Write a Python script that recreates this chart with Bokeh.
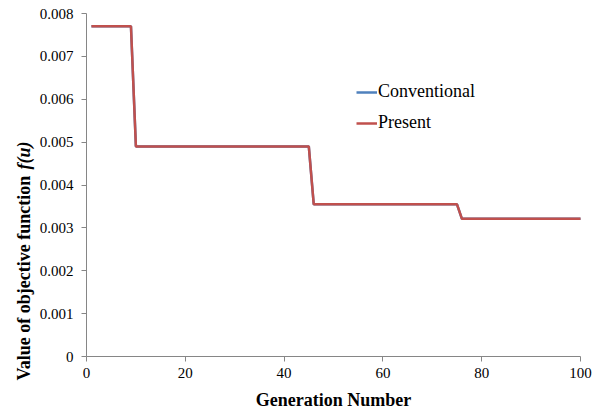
from bokeh.plotting import figure
from bokeh.models import Range1d, FixedTicker, Legend, LegendItem, Label
from bokeh.embed import file_html
from bokeh.resources import INLINE
import math

# ---- data ----
generation = list(range(1, 101))
conventional = [
    0.0077, 0.0077, 0.0077, 0.0077, 0.0077, 0.0077, 0.0077, 0.0077, 0.0077,
    0.0049, 0.0049, 0.0049, 0.0049, 0.0049, 0.0049, 0.0049, 0.0049, 0.0049, 0.0049,
    0.0049, 0.0049, 0.0049, 0.0049, 0.0049, 0.0049, 0.0049, 0.0049, 0.0049, 0.0049,
    0.0049, 0.0049, 0.0049, 0.0049, 0.0049, 0.0049, 0.0049, 0.0049, 0.0049, 0.0049,
    0.0049, 0.0049, 0.0049, 0.0049, 0.0049, 0.0049,
    0.00355, 0.00355, 0.00355, 0.00355, 0.00355, 0.00355, 0.00355, 0.00355, 0.00355, 0.00355,
    0.00355, 0.00355, 0.00355, 0.00355, 0.00355, 0.00355, 0.00355, 0.00355, 0.00355, 0.00355,
    0.00355, 0.00355, 0.00355, 0.00355, 0.00355, 0.00355, 0.00355, 0.00355, 0.00355, 0.00355,
    0.00321, 0.00321, 0.00321, 0.00321, 0.00321, 0.00321, 0.00321, 0.00321, 0.00321, 0.00321,
    0.00321, 0.00321, 0.00321, 0.00321, 0.00321, 0.00321, 0.00321, 0.00321, 0.00321, 0.00321,
    0.00321, 0.00321, 0.00321, 0.00321, 0.00321,
]
present = [
    0.0077, 0.0077, 0.0077, 0.0077, 0.0077, 0.0077, 0.0077, 0.0077, 0.0077,
    0.0049, 0.0049, 0.0049, 0.0049, 0.0049, 0.0049, 0.0049, 0.0049, 0.0049, 0.0049,
    0.0049, 0.0049, 0.0049, 0.0049, 0.0049, 0.0049, 0.0049, 0.0049, 0.0049, 0.0049,
    0.0049, 0.0049, 0.0049, 0.0049, 0.0049, 0.0049, 0.0049, 0.0049, 0.0049, 0.0049,
    0.0049, 0.0049, 0.0049, 0.0049, 0.0049, 0.0049,
    0.00355, 0.00355, 0.00355, 0.00355, 0.00355, 0.00355, 0.00355, 0.00355, 0.00355, 0.00355,
    0.00355, 0.00355, 0.00355, 0.00355, 0.00355, 0.00355, 0.00355, 0.00355, 0.00355, 0.00355,
    0.00355, 0.00355, 0.00355, 0.00355, 0.00355, 0.00355, 0.00355, 0.00355, 0.00355, 0.00355,
    0.00321, 0.00321, 0.00321, 0.00321, 0.00321, 0.00321, 0.00321, 0.00321, 0.00321, 0.00321,
    0.00321, 0.00321, 0.00321, 0.00321, 0.00321, 0.00321, 0.00321, 0.00321, 0.00321, 0.00321,
    0.00321, 0.00321, 0.00321, 0.00321, 0.00321,
]
series_names = ["Conventional", "Present"]
x_ticks = [0, 20, 40, 60, 80, 100]
x_tick_labels = ["0", "20", "40", "60", "80", "100"]
y_ticks = [0, 0.001, 0.002, 0.003, 0.004, 0.005, 0.006, 0.007, 0.008]
y_tick_labels = ["0", "0.001", "0.002", "0.003", "0.004", "0.005", "0.006", "0.007", "0.008"]
x_title = "Generation Number"
y_title_main = "Value of objective function "
y_title_italic = "f(u)"

FONT = "Liberation Serif"
AXIS_COLOR = "#868686"

# canvas layout: the frame fills the canvas; the axes sit at fixed data locations
W, H = 600, 410
PLOT_L, PLOT_R, PLOT_T, PLOT_B = 86, 580, 13, 356   # pixel box of the 0..100 x 0..0.008 area
X0, X1 = 0, 100
Y0, Y1 = 0, 0.008
xs = (PLOT_R - PLOT_L) / (X1 - X0)
ys = (PLOT_B - PLOT_T) / (Y1 - Y0)
x_range = Range1d(X0 - PLOT_L / xs, X1 + (W - PLOT_R) / xs)
y_range = Range1d(Y0 - (H - PLOT_B) / ys, Y1 + PLOT_T / ys)

p = figure(width=W, height=H, x_range=x_range, y_range=y_range,
           output_backend="svg", toolbar_location=None,
           min_border=0, min_border_left=0, min_border_right=0,
           min_border_top=0, min_border_bottom=0)
p.outline_line_color = None
p.xgrid.visible = False
p.ygrid.visible = False
p.background_fill_color = "white"
p.border_fill_color = "white"

r1 = p.line(generation, conventional, line_color="#4F81BD", line_width=2.5)
r2 = p.line(generation, present, line_color="#C0504D", line_width=2.5)

for ax in (p.xaxis[0], p.yaxis[0]):
    ax.axis_line_color = AXIS_COLOR
    ax.axis_line_width = 1
    ax.major_tick_line_color = AXIS_COLOR
    ax.major_tick_in = 0
    ax.major_tick_out = 5
    ax.minor_tick_line_color = None
    ax.major_label_text_font = FONT
    ax.major_label_text_font_size = "15px"
    ax.major_label_text_color = "black"

p.xaxis.ticker = FixedTicker(ticks=x_ticks)
p.xaxis.major_label_overrides = dict(zip(x_ticks, x_tick_labels))
p.xaxis.major_label_standoff = 6
p.xaxis.fixed_location = Y0
p.xaxis.bounds = (X0, X1)
p.yaxis.ticker = FixedTicker(ticks=y_ticks)
p.yaxis.major_label_overrides = dict(zip(y_ticks, y_tick_labels))
p.yaxis.major_label_standoff = 8
p.yaxis.fixed_location = X0
p.yaxis.bounds = (Y0, Y1)

# axis titles (screen units, from the frame's bottom-left = canvas bottom-left)
p.add_layout(Label(x=333, y=H - 399, x_units="screen", y_units="screen",
                   text=x_title, text_font=FONT, text_color="black",
                   text_font_size="18px", text_font_style="bold",
                   text_align="center", text_baseline="middle"))
p.add_layout(Label(x=23, y=H - 380, x_units="screen", y_units="screen",
                   text=y_title_main, text_font=FONT, text_color="black",
                   text_font_size="18px", text_font_style="bold", angle=math.pi / 2,
                   text_align="left", text_baseline="middle"))
p.add_layout(Label(x=23, y=H - 169, x_units="screen", y_units="screen",
                   text=y_title_italic, text_font=FONT, text_color="black",
                   text_font_size="18px", text_font_style="bold italic", angle=math.pi / 2,
                   text_align="left", text_baseline="middle"))

legend = Legend(items=[LegendItem(label=series_names[0], renderers=[r1]),
                       LegendItem(label=series_names[1], renderers=[r2])],
                location=(356, H - 133))
legend.border_line_color = None
legend.background_fill_alpha = 0
legend.padding = 0
legend.margin = 0
legend.spacing = 10
legend.glyph_width = 21
legend.glyph_height = 20
legend.label_height = 20
legend.label_standoff = 1
legend.label_text_font = FONT
legend.label_text_font_size = "18px"
legend.label_text_color = "black"
p.add_layout(legend)

open("out.html", "w").write(file_html(p, INLINE))
